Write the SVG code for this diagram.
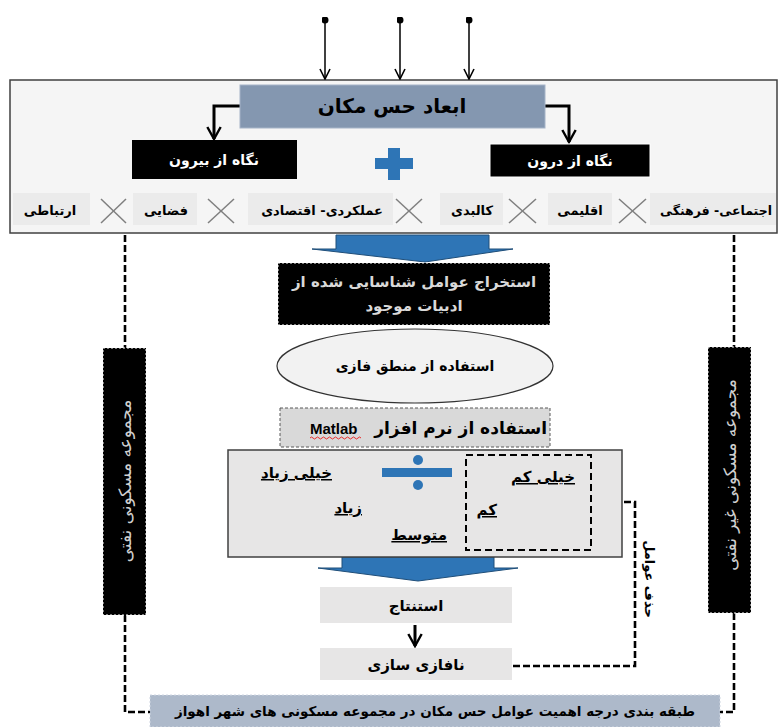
<svg xmlns="http://www.w3.org/2000/svg" width="783" height="727" viewBox="0 0 783 727">
<style>
.t{font-family:"DejaVu Sans","Noto Sans",sans-serif;font-weight:bold;direction:rtl}
.c{text-anchor:middle}
.blk{fill:#000}
.ln{fill:none;stroke:#000;stroke-width:1.5}
.thick{fill:none;stroke:#000;stroke-width:3}
.dash{fill:none;stroke:#000;stroke-width:2.6;stroke-dasharray:7 3}
.x{stroke:#7f7f7f;stroke-width:1.5}
.item{fill:#ebebeb}
.barrow{fill:#2e75b6;stroke:#1f4e79;stroke-width:1}
.ul{text-decoration:underline}
</style>
<defs>
<marker id="chev" viewBox="0 0 12 12" refX="11" refY="6" markerWidth="12" markerHeight="14" markerUnits="userSpaceOnUse" orient="auto">
<path d="M1,1 L11,6 L1,11" fill="none" stroke="#000" stroke-width="1.6"/>
</marker>
<marker id="chevB" viewBox="0 0 12 12" refX="10" refY="6" markerWidth="16" markerHeight="18" markerUnits="userSpaceOnUse" orient="auto">
<path d="M1,1 L10,6 L1,11" fill="none" stroke="#000" stroke-width="1.8"/>
</marker>
<marker id="dot" viewBox="0 0 8 8" refX="4" refY="4" markerWidth="7" markerHeight="7" markerUnits="userSpaceOnUse">
<circle cx="4" cy="4" r="4" fill="#000"/>
</marker>
</defs>

<g id="frame">
<rect x="10" y="80" width="767" height="153" fill="#f5f5f5" stroke="#404040" stroke-width="1.5"/>
</g>

<g id="connectors">
<line class="ln" x1="325" y1="20" x2="325" y2="79" marker-start="url(#dot)" marker-end="url(#chev)"/>
<line class="ln" x1="400" y1="20" x2="400" y2="79" marker-start="url(#dot)" marker-end="url(#chev)"/>
<line class="ln" x1="469" y1="20" x2="469" y2="79" marker-start="url(#dot)" marker-end="url(#chev)"/>
<polyline class="thick" points="240,106 214,106 214,139" marker-end="url(#chevB)"/>
<polyline class="thick" points="545,106 569,106 569,142" marker-end="url(#chevB)"/>
<line class="thick" x1="415" y1="625" x2="415" y2="646" marker-end="url(#chevB)"/>
<polyline class="dash" points="125,235 125,348"/>
<polyline class="dash" points="125,615 125,712 150,712"/>
<polyline class="dash" points="734,235 734,347"/>
<polyline class="dash" points="734,613 734,712 720,712"/>
<polyline class="dash" points="513,666 635,666 635,502 596,502"/>
<path d="M603,494 L594,502 L603,510" fill="none" stroke="#000" stroke-width="2"/>
<polygon class="barrow" points="336,235 489,235 489,249 513,249 425,262 312,249 336,249"/>
<polygon class="barrow" points="342,557 494,557 494,568 518,568 418,581 318,568 342,568"/>
</g>

<g id="title">
<rect x="240" y="85" width="305" height="43" fill="#8497b0" stroke="#a6b4c8" stroke-width="1"/>
<text class="t c" x="392" y="113" font-size="20">ابعاد حس مکان</text>
</g>

<g id="outside">
<rect x="132" y="140" width="165" height="39" class="blk"/>
<text class="t c" x="214" y="165" font-size="14" fill="#fff">نگاه از بیرون</text>
</g>

<g id="inside">
<rect x="490" y="144" width="160" height="33" class="blk" stroke="#fff" stroke-width="1"/>
<text class="t c" x="570" y="166" font-size="14" fill="#fff">نگاه از درون</text>
</g>

<g id="plus">
<rect x="375" y="158" width="38" height="11" fill="#2e75b6"/>
<rect x="388" y="148" width="12" height="32" fill="#2e75b6"/>
</g>

<g id="dimensions">
<rect class="item" x="13" y="193" width="77" height="32"/>
<text class="t c" x="50" y="215" font-size="13">ارتباطی</text>
<line class="x" x1="101" y1="199" x2="126" y2="223"/><line class="x" x1="126" y1="199" x2="101" y2="223"/>
<rect class="item" x="133" y="193" width="64" height="32"/>
<text class="t c" x="166" y="215" font-size="13">فضایی</text>
<line class="x" x1="208" y1="199" x2="234" y2="223"/><line class="x" x1="234" y1="199" x2="208" y2="223"/>
<rect class="item" x="248" y="193" width="145" height="32"/>
<text class="t c" x="322" y="215" font-size="13">عملکردی- اقتصادی</text>
<line class="x" x1="396" y1="199" x2="422" y2="223"/><line class="x" x1="422" y1="199" x2="396" y2="223"/>
<rect class="item" x="440" y="193" width="63" height="32"/>
<text class="t c" x="472" y="215" font-size="13">کالبدی</text>
<line class="x" x1="509" y1="199" x2="536" y2="223"/><line class="x" x1="536" y1="199" x2="509" y2="223"/>
<rect class="item" x="548" y="193" width="64" height="32"/>
<text class="t c" x="580" y="215" font-size="13">اقلیمی</text>
<line class="x" x1="619" y1="199" x2="646" y2="223"/><line class="x" x1="646" y1="199" x2="619" y2="223"/>
<rect class="item" x="650" y="193" width="126" height="32"/>
<text class="t c" x="716" y="215" font-size="12.5">اجتماعی- فرهنگی</text>
</g>

<g id="extract">
<rect x="278" y="263" width="272" height="62" fill="#000" stroke="#fff" stroke-width="1" stroke-dasharray="2 2"/>
<text class="t c" x="414" y="287" font-size="15" fill="#d9d9d9">استخراج عوامل شناسایی شده از</text>
<text class="t c" x="414" y="311" font-size="15" fill="#d9d9d9">ادبیات موجود</text>
</g>

<g id="fuzzy">
<ellipse cx="415" cy="366" rx="138" ry="37" fill="#f2f2f2" stroke="#333" stroke-width="1.2"/>
<text class="t c" x="415" y="371" font-size="14">استفاده از منطق فازی</text>
</g>

<g id="matlab">
<rect x="280" y="408" width="270" height="39" fill="#d9d9d9" stroke="#595959" stroke-width="1" stroke-dasharray="3 2"/>
<text class="t" x="547" y="434" font-size="17" style="text-anchor:start">استفاده از نرم افزار</text>
<text x="310" y="434" font-size="15" font-weight="bold" font-family="'Liberation Sans',sans-serif">Matlab</text>
<path d="M310,438 q1.5,-2 3,0 t3,0 t3,0 t3,0 t3,0 t3,0 t3,0 t3,0 t3,0 t3,0 t3,0 t3,0 t3,0 t3,0 t3,0 t3,0 t3,0" fill="none" stroke="#e00" stroke-width="0.8"/>
</g>

<g id="levels">
<rect x="228" y="450" width="394" height="107" fill="#e7e6e6" stroke="#404040" stroke-width="1.5"/>
<rect x="466" y="455" width="125" height="95" fill="none" stroke="#000" stroke-width="2" stroke-dasharray="7 4"/>
<rect x="382" y="468" width="70" height="9" fill="#2e75b6"/>
<circle cx="418" cy="460" r="5" fill="#2e75b6"/>
<circle cx="418" cy="485" r="5" fill="#2e75b6"/>
<text class="t ul" x="332" y="478" font-size="15" style="text-anchor:start">خیلی زیاد</text>
<text class="t ul" x="362" y="513" font-size="15" style="text-anchor:start">زیاد</text>
<text class="t ul" x="447" y="540" font-size="15" style="text-anchor:start">متوسط</text>
<text class="t ul" x="497" y="515" font-size="15" style="text-anchor:start">کم</text>
<text class="t ul" x="575" y="482" font-size="15" style="text-anchor:start">خیلی کم</text>
</g>

<g id="remove-label">
<text class="t c" font-size="13" transform="translate(650,579) rotate(90)" x="0" y="5">حذف عوامل</text>
</g>

<g id="conclusion">
<rect x="320" y="587" width="192" height="36" fill="#e7e6e6"/>
<text class="t c" x="416" y="611" font-size="15">استنتاج</text>
</g>

<g id="defuzz">
<rect x="320" y="648" width="192" height="32" fill="#e7e6e6"/>
<text class="t c" x="416" y="670" font-size="15">نافازی سازی</text>
</g>

<g id="oil">
<rect x="103" y="348" width="43" height="267" fill="#000" stroke="#fff" stroke-width="1" stroke-dasharray="2 2"/>
<text class="t c" font-size="17" fill="#cfcfcf" style="font-weight:normal" transform="translate(124.5,481) rotate(-90)" x="0" y="6">مجموعه مسکونی نفتی</text>
</g>

<g id="nonoil">
<rect x="708" y="347" width="43" height="266" fill="#000" stroke="#fff" stroke-width="1" stroke-dasharray="2 2"/>
<text class="t c" font-size="17" fill="#cfcfcf" style="font-weight:normal" transform="translate(729.5,475) rotate(-90)" x="0" y="6">مجموعه مسکونی غیر نفتی</text>
</g>

<g id="ranking">
<rect x="150" y="695" width="570" height="32" fill="#adb9ca" stroke="#d0d7e2" stroke-width="1" stroke-dasharray="2 2"/>
<text class="t c" x="435" y="716" font-size="13.5">طبقه بندی درجه اهمیت عوامل حس مکان در مجموعه مسکونی های شهر اهواز</text>
</g>
</svg>
